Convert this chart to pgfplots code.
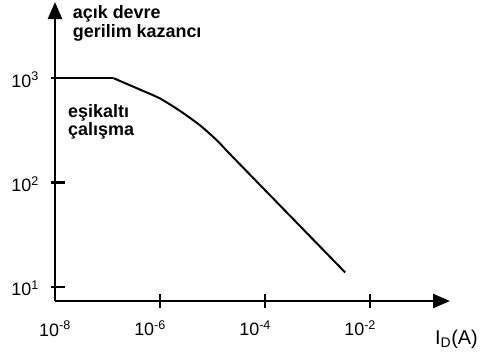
\documentclass[border=0pt]{standalone}
\usepackage{fontspec}
\setmainfont{Liberation Sans}
\usepackage{pgfplots}
\pgfplotsset{compat=1.18}
\usetikzlibrary{arrows.meta}
\begin{document}
\begin{tikzpicture}[x=1bp,y=1bp]
\path[use as bounding box] (0,0) rectangle (486,356);
\begin{axis}[
  at={(55bp,55bp)}, anchor=south west,
  scale only axis, width=395bp, height=299bp,
  xmode=log, ymode=log,
  xmin=1e-8, xmax=0.331, ymin=7.29, ymax=5370,
  axis lines=left,
  axis line style={line width=2.4bp, -{Triangle[length=17bp,width=14bp]}},
  xtick={1e-6,1e-4,1e-2},
  xticklabels={10\textsuperscript{-6},10\textsuperscript{-4},10\textsuperscript{-2}},
  extra x ticks={1e-8}, extra x tick labels={10\textsuperscript{-8}},
  extra x tick style={grid=none, major tick length=0pt, xticklabel style={yshift=-7bp, xshift=10bp}},
  ytick={10,100,1000},
  yticklabels={10\textsuperscript{1},10\textsuperscript{2},10\textsuperscript{3}},
  xminorticks=false, yminorticks=false,
  tick align=center, major tick length=14bp,
  tick style={line width=2.2bp, black},
  ytick style={xshift=3bp},
  xticklabel style={anchor=base, xshift=-10bp, yshift=-28bp, inner sep=0pt, font=\fontsize{18}{20}\selectfont},
  yticklabel style={anchor=base east, xshift=-9bp, yshift=-9bp, inner sep=0pt, font=\fontsize{18}{20}\selectfont},
  clip=false,
]
\addplot[line width=2bp, black, mark=none] coordinates {
(1.55e-8,1000) (1.29e-7,1000)
};
\addplot[line width=2bp, black, mark=none, smooth, tension=0.4] coordinates {
(1.29e-7,1000) (4.17e-7,776) (1e-6,638) (2.40e-6,485)
(5.75e-6,353) (1.20e-5,254) (1.86e-5,201)
};
\addplot[line width=2bp, black, mark=none] coordinates {
(1.86e-5,201) (3.34e-3,13.7)
};
\end{axis}
\begin{scope}[every node/.style={inner sep=0pt, anchor=base west, font=\fontsize{18}{20}\selectfont\bfseries}]
\node at (72.7,337.7) {açık devre};
\node at (72.7,318.7) {gerilim kazancı};
\node at (68,238.7) {eşikaltı};
\node at (68,221) {çalışma};
\end{scope}
\node[inner sep=0pt, anchor=base west, font=\fontsize{20}{22}\selectfont] at (435,12) {I\textsubscript{D}(A)};
\end{tikzpicture}
\end{document}
